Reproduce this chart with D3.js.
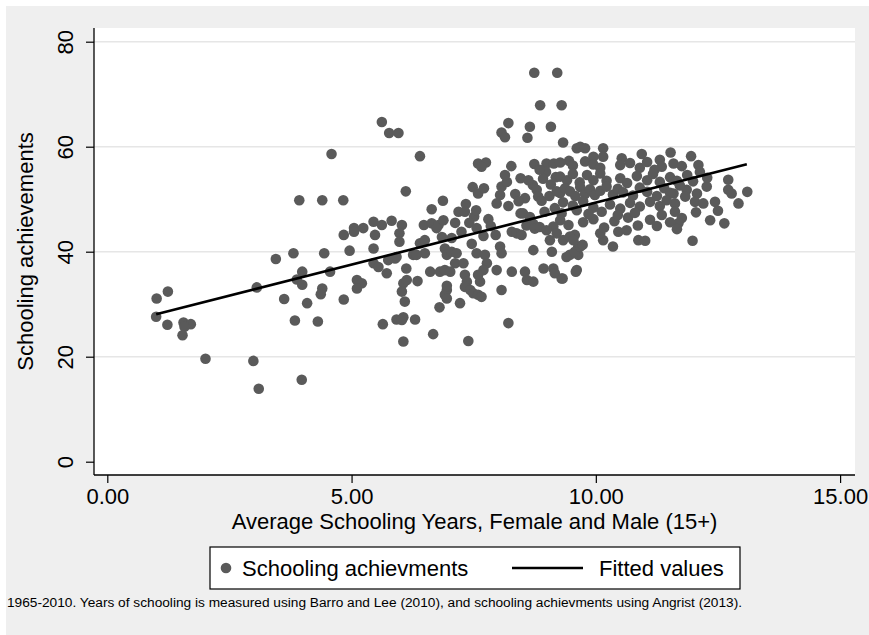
<!DOCTYPE html>
<html>
<head>
<meta charset="utf-8">
<script src="https://cdn.jsdelivr.net/npm/d3@7"></script>
<style>
  body { margin: 0; background: #ffffff; }
  text { font-family: "Liberation Sans", Arial, sans-serif; fill: #000; }
</style>
</head>
<body>
<div id="chart"></div>
<script>
// Average schooling years (x) and schooling achievements (y)
let avgYears = [
  1.01, 1.24, 1.00, 1.23, 1.56, 1.71, 1.58, 1.54, 2.01, 2.99, 3.10, 3.06, 3.45, 3.62, 3.84, 3.81,
  3.99, 3.88, 3.99, 4.09, 3.98, 4.31, 4.44, 4.56, 4.40, 4.37, 4.84, 4.84, 4.96, 4.59, 3.93, 4.40,
  4.83,
  5.62, 5.77, 5.96, 6.40, 6.11,
  5.05, 5.24, 5.45, 5.62, 5.82, 6.03, 5.05, 5.48, 5.98, 5.98, 5.45,
  5.45, 5.55, 5.72, 5.89, 5.75, 6.12, 6.06, 6.13, 6.03, 6.35, 5.11, 5.21, 5.11, 5.92, 6.26, 6.09,
  5.64, 5.92, 6.06, 6.03, 6.30, 6.06, 6.67, 7.39,
  6.40, 6.50, 6.33, 6.48, 6.64, 6.78, 6.88, 6.50, 6.74, 6.87, 6.64, 6.61, 6.81, 6.91,
  6.91, 6.95, 7.05, 7.15, 7.12, 7.02, 6.95, 6.91, 6.95, 6.95, 6.80, 7.22,
  7.34, 7.19, 7.32, 7.51, 7.41, 7.12, 7.48, 7.59, 7.71, 7.59, 7.75, 7.66, 7.56,
  7.29, 7.32, 7.36, 7.32, 7.43, 7.49, 7.46, 7.56, 7.73, 7.77, 7.70, 7.63, 7.59, 7.66, 7.59,
  7.55, 7.80, 7.85, 7.95, 7.70, 7.25, 7.05, 6.85,
  7.97, 8.04, 8.07, 8.18, 8.14, 8.27, 8.21, 8.21, 8.07, 8.14, 8.65, 8.60, 9.08, 9.33,
  8.74, 9.21, 8.86, 9.30, 8.46, 8.74, 8.99, 9.14, 8.98, 9.08, 8.71, 8.79, 8.82, 8.89, 8.46,
  8.04, 8.07, 7.97, 8.28, 8.07, 8.21, 8.55, 8.59, 8.72, 8.93, 9.13, 9.30, 9.47, 9.61, 9.64,
  9.16, 9.10, 8.72, 8.28, 8.38, 8.48, 8.51, 8.65, 8.72, 8.58, 8.75, 8.85,
  9.16, 9.30, 9.61, 9.27, 9.13, 9.20, 8.99, 9.06, 9.33, 9.44, 9.57, 9.64,
  9.40, 9.57, 9.68, 9.73, 9.32, 9.59, 9.47, 9.54, 10.15, 10.35, 10.87, 11.01, 11.98, 10.46, 10.63, 10.09,
  8.35, 8.55, 8.62, 8.92, 9.05, 9.18, 9.20, 8.42, 8.95, 8.85,
  9.61, 9.45, 9.68, 9.78, 10.15, 9.95, 10.15, 10.94, 11.53, 11.95, 10.53, 10.50, 11.31, 11.35,
  11.59, 11.76, 12.10, 12.13,
  12.71, 12.71, 12.78, 13.10, 12.92, 12.27, 12.07, 12.03, 12.20, 12.44, 12.34, 12.63, 11.76, 11.69,
  11.86, 11.83, 11.59, 11.62,
  9.27, 9.53, 9.78, 9.95, 10.09, 10.70, 10.90, 11.05, 11.20,
  9.27, 9.41, 9.53, 9.67, 9.82, 9.95, 10.09, 10.22, 10.50, 10.64, 10.84, 11.05, 11.17, 11.31,
  11.52, 11.66, 11.87, 11.99, 12.28,
  9.27, 9.37, 9.47, 9.58, 9.68, 9.78, 9.88, 9.98, 10.09, 10.22, 10.35, 10.45, 10.56, 10.76,
  10.90, 11.05, 11.25, 11.40, 11.52, 11.72,
  9.33, 9.53, 9.74, 9.95, 10.29, 10.50, 10.70, 10.90, 11.11, 11.31, 11.45, 11.62,
  9.74, 9.95, 10.17, 10.38, 10.66, 10.86, 11.11, 11.25, 11.52, 11.66,
  9.85, 10.12, 10.45, 10.80, 11.35, 12.05, 12.50
];

let achievement = [
  31.1, 32.4, 27.6, 26.1, 26.5, 26.2, 25.7, 24.1, 19.6, 19.2, 13.9, 33.2, 38.6, 31.0, 26.9, 39.7,
  36.2, 34.7, 33.7, 30.2, 15.6, 26.7, 39.7, 36.2, 33.0, 31.9, 30.9, 43.2, 40.2, 58.6, 49.8, 49.8,
  49.8,
  64.7, 62.6, 62.6, 58.2, 51.5,
  44.5, 44.5, 45.7, 45.1, 45.9, 45.1, 43.8, 43.2, 43.5, 41.9, 40.6,
  37.8, 37.1, 35.9, 38.7, 38.4, 36.8, 34.0, 34.6, 32.4, 34.4, 34.6, 34.0, 33.0, 39.0, 39.4, 30.5,
  26.2, 27.1, 27.5, 27.0, 27.1, 22.9, 24.3, 23.0,
  41.6, 39.7, 39.4, 45.1, 45.4, 45.1, 46.0, 42.2, 44.5, 49.7, 48.1, 36.2, 36.2, 36.5,
  40.6, 39.4, 40.0, 39.7, 37.8, 36.2, 32.7, 31.8, 33.5, 31.1, 29.4, 30.2,
  49.1, 47.6, 47.6, 46.7, 45.5, 45.5, 52.3, 51.1, 52.1, 56.8, 57.0, 56.2, 44.5,
  37.8, 35.6, 34.3, 33.3, 32.7, 32.1, 41.5, 39.7, 39.4, 37.8, 36.5, 34.3, 31.8, 31.4, 35.6,
  47.9, 46.2, 44.9, 43.2, 43.0, 43.8, 42.6, 42.8,
  49.2, 50.8, 52.4, 53.3, 54.6, 56.3, 48.7, 64.5, 62.7, 61.8, 63.8, 61.7, 63.8, 60.8,
  74.1, 74.1, 67.9, 67.9, 54.0, 56.7, 56.8, 56.8, 55.2, 52.8, 52.7, 51.8, 50.5, 49.7, 47.3,
  41.0, 39.7, 36.5, 36.2, 32.7, 26.4, 36.2, 34.6, 34.3, 36.8, 36.8, 34.9, 39.4, 36.5, 39.4,
  35.9, 40.0, 40.3, 43.8, 43.5, 43.2, 47.3, 46.6, 45.3, 45.0, 44.4, 44.7,
  48.3, 47.3, 47.9, 46.0, 44.8, 43.5, 44.1, 42.2, 42.2, 45.1, 43.2, 41.0,
  39.0, 40.0, 41.0, 41.3, 34.9, 36.2, 42.9, 42.2, 42.2, 41.0, 42.2, 42.1, 42.1, 43.8, 44.1, 43.5,
  51.0, 50.2, 53.6, 53.9, 50.6, 54.2, 51.5, 49.6, 47.6, 55.6,
  59.7, 57.3, 60.0, 59.7, 59.7, 58.1, 58.1, 58.6, 58.9, 58.2, 57.8, 56.5, 57.5, 56.2,
  56.8, 56.3, 56.5, 55.2,
  53.7, 51.8, 51.1, 51.4, 49.2, 52.4, 51.1, 49.5, 49.2, 49.5, 46.0, 45.4, 46.4, 45.4,
  51.8, 50.5, 51.1, 49.2,
  57.0, 56.4, 57.2, 56.6, 56.0, 56.9, 56.0, 57.1, 55.6,
  54.3, 53.6, 54.8, 53.2, 54.6, 53.6, 54.9, 53.5, 54.0, 53.1, 54.4, 53.6, 54.8, 53.3,
  54.2, 53.5, 54.6, 53.4, 54.1,
  51.2, 52.1, 51.5, 50.6, 52.3, 51.0, 51.9, 50.8, 51.6, 52.4, 50.9, 52.0, 51.3, 50.7,
  52.2, 51.4, 50.6, 52.1, 51.2, 52.6,
  49.4, 48.8, 49.6, 48.4, 49.0, 48.2, 49.3, 48.6, 49.5, 48.7, 49.8, 47.6,
  45.6, 46.2, 44.6, 45.8, 46.5, 45.0, 46.1, 44.9, 45.6, 44.3,
  47.2, 47.6, 47.0, 47.4, 47.0, 47.5, 47.8
];

// Fitted values (linear fit), end points
let fitYears = [1.00, 13.09];
let fitValues = [28.1, 56.65];

// Tick labels
let xTicks = [0, 5, 10, 15];
let yTicks = [0, 20, 40, 60, 80];
let gridTicks = [20, 40, 60, 80];

let points = avgYears.map((d, i) => ({ x: d, y: achievement[i] }));
let fitted = fitYears.map((d, i) => ({ x: d, y: fitValues[i] }));

let svgWidth = 869;
let svgHeight = 635;

let svg = d3.select("#chart")
  .append("svg")
  .attr("width", svgWidth)
  .attr("height", svgHeight);

// Outer grey background
svg.append("rect")
  .attr("x", 6).attr("y", 6)
  .attr("width", svgWidth - 6).attr("height", svgHeight - 6)
  .attr("fill", "#efefef");

// Plot region
let plot = { left: 94, right: 855, top: 28, bottom: 475 };

svg.append("rect")
  .attr("x", plot.left).attr("y", plot.top)
  .attr("width", plot.right - plot.left).attr("height", plot.bottom - plot.top)
  .attr("fill", "#ffffff");

let x = d3.scaleLinear().domain([0, 15]).range([107.3, 840.1]);
let y = d3.scaleLinear().domain([0, 80]).range([461.7, 41.7]);

// Gridlines
svg.append("g")
  .selectAll("line")
  .data(gridTicks)
  .enter()
  .append("line")
  .attr("x1", plot.left).attr("x2", plot.right)
  .attr("y1", d => y(d)).attr("y2", d => y(d))
  .attr("stroke", "#e6e6e6")
  .attr("stroke-width", 1.5);

// Y axis
let yAxis = svg.append("g")
  .attr("transform", `translate(${plot.left},0)`)
  .call(d3.axisLeft(y).tickValues(yTicks).tickSize(8).tickSizeOuter(0));
yAxis.select(".domain").remove();
yAxis.selectAll(".tick line").attr("stroke", "#000").attr("stroke-width", 1.2);
yAxis.selectAll(".tick text")
  .attr("transform", "rotate(-90)")
  .attr("x", 0).attr("y", -21).attr("dy", 0)
  .style("text-anchor", "middle")
  .style("font-size", "22px")
  .style("font-family", "Liberation Sans, Arial, sans-serif");
yAxis.append("line")
  .attr("x1", 0).attr("x2", 0)
  .attr("y1", plot.top).attr("y2", plot.bottom)
  .attr("stroke", "#000").attr("stroke-width", 1.3);

// X axis
let xAxis = svg.append("g")
  .attr("transform", `translate(0,${plot.bottom})`)
  .call(d3.axisBottom(x).tickValues(xTicks).tickFormat(d3.format(".2f")).tickSize(8).tickSizeOuter(0));
xAxis.select(".domain").remove();
xAxis.selectAll(".tick line").attr("stroke", "#000").attr("stroke-width", 1.2);
xAxis.selectAll(".tick text")
  .attr("y", 29).attr("dy", 0)
  .style("font-size", "22px")
  .style("font-family", "Liberation Sans, Arial, sans-serif");
xAxis.append("line")
  .attr("x1", plot.left).attr("x2", plot.right)
  .attr("y1", 0).attr("y2", 0)
  .attr("stroke", "#000").attr("stroke-width", 1.3);

// Axis titles
svg.append("text")
  .attr("x", (plot.left + plot.right) / 2)
  .attr("y", 529)
  .style("text-anchor", "middle")
  .style("font-size", "22px")
  .text("Average Schooling Years, Female and Male (15+)");

svg.append("text")
  .attr("transform", `translate(33, ${(plot.top + plot.bottom) / 2}) rotate(-90)`)
  .style("text-anchor", "middle")
  .style("font-size", "22px")
  .text("Schooling achievements");

// Scatter points
svg.append("g")
  .selectAll("circle")
  .data(points)
  .enter()
  .append("circle")
  .attr("cx", d => x(d.x))
  .attr("cy", d => y(d.y))
  .attr("r", 5.3)
  .attr("fill", "#5a5a5a");

// Fitted line
let line = d3.line().x(d => x(d.x)).y(d => y(d.y));
svg.append("path")
  .datum(fitted)
  .attr("d", line)
  .attr("fill", "none")
  .attr("stroke", "#000")
  .attr("stroke-width", 2.6);

// Legend
let legend = svg.append("g");
legend.append("rect")
  .attr("x", 210).attr("y", 547)
  .attr("width", 530).attr("height", 42)
  .attr("fill", "#ffffff")
  .attr("stroke", "#000")
  .attr("stroke-width", 1.2);
legend.append("circle")
  .attr("cx", 226).attr("cy", 568)
  .attr("r", 5.3)
  .attr("fill", "#5a5a5a");
legend.append("text")
  .attr("x", 242).attr("y", 576)
  .style("font-size", "22px")
  .text("Schooling achievments");
legend.append("line")
  .attr("x1", 512).attr("x2", 583)
  .attr("y1", 568).attr("y2", 568)
  .attr("stroke", "#000")
  .attr("stroke-width", 2.6);
legend.append("text")
  .attr("x", 599).attr("y", 576)
  .style("font-size", "22px")
  .text("Fitted values");

// Note
svg.append("text")
  .attr("x", 7).attr("y", 607)
  .style("font-size", "13.7px")
  .text("1965-2010. Years of schooling is measured using Barro and Lee (2010), and schooling achievments using Angrist (2013).");
</script>
</body>
</html>
